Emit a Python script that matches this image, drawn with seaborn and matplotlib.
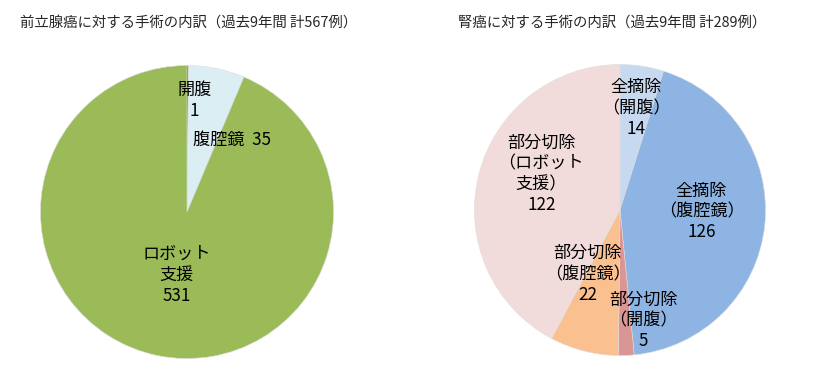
import matplotlib
matplotlib.use("Agg")
import matplotlib.pyplot as plt
import seaborn as sns
import numpy as np

sns.set_theme(style="white")
plt.rcParams['font.family'] = ['Noto Sans CJK JP', 'DejaVu Sans']

# Left pie: prostate cancer
left_title = "前立腺癌に対する手術の内訳（過去9年間 計567例）"
left_labels = ["開腹\n1", "腹腔鏡  35", "ロボット\n支援\n531"]
left_values = [1, 35, 531]
left_colors = ["#9A4A3C", "#DBEEF4", "#9BBB59"]
left_label_pos = [(0.05, 0.76), (0.31, 0.49), (-0.07, -0.43)]

# Right pie: kidney cancer
right_title = "腎癌に対する手術の内訳（過去9年間 計289例）"
right_labels = ["全摘除\n（開腹）\n14", "全摘除\n（腹腔鏡）\n126", "部分切除\n（開腹）\n5",
                "部分切除\n（腹腔鏡）\n22", "部分切除\n（ロボット\n支援）\n122"]
right_values = [14, 126, 5, 22, 122]
right_colors = ["#C6D9F1", "#8DB4E2", "#D99694", "#FAC090", "#F2DCDB"]
right_label_pos = [(0.11, 0.70), (0.56, -0.01), (0.16, -0.76), (-0.22, -0.44), (-0.54, 0.25)]

W, H = 814, 380
fig = plt.figure(figsize=(W / 100, H / 100), dpi=100)
fig.patch.set_facecolor("white")


def make_ax(cx, cy, r):
    ax = fig.add_axes([(cx - r) / W, (H - cy - r) / H, 2 * r / W, 2 * r / H])
    ax.set_axis_off()
    return ax


def draw(ax, values, colors, labels, pos):
    ax.pie(values, colors=colors, startangle=90, counterclock=False, radius=1,
           wedgeprops=dict(linewidth=0.4, edgecolor="#DDDDDD"))
    ax.set_xlim(-1.01, 1.01)
    ax.set_ylim(-1.01, 1.01)
    for lab, (x, y) in zip(labels, pos):
        ax.text(x, y, lab, ha="center", va="center", fontsize=12.3,
                color="black", linespacing=1.2)


axl = make_ax(187, 212, 148)
draw(axl, left_values, left_colors, left_labels, left_label_pos)
axr = make_ax(620, 210, 147)
draw(axr, right_values, right_colors, right_labels, right_label_pos)

fig.text(20 / W, 1 - 23 / H, left_title, ha="left", va="center", fontsize=10.4)
fig.text(612 / W, 1 - 23 / H, right_title, ha="center", va="center", fontsize=10.4)

fig.savefig("out.png", dpi=100, facecolor="white")
